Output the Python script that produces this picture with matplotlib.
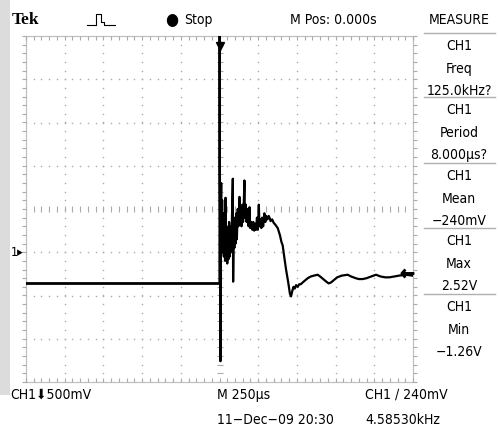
import numpy as np
import matplotlib
matplotlib.use("Agg")
import matplotlib.pyplot as plt
from matplotlib.patches import Rectangle

plt.rcParams['font.family'] = ['DejaVu Sans']
plt.rcParams['font.stretch'] = 'condensed'

# scope settings
volts_per_div = 0.5
us_per_div = 250
ground_div = -1
trig_level = -0.24

# captured CH1 trace: time in us, voltage in V
pre_t = [-1250, -1000, -750, -500, -250, -2]
pre_v = [-0.35, -0.35, -0.35, -0.35, -0.35, -0.35]

post_t = [0, 1, 2, 4, 6, 8, 11, 14, 17, 20, 24, 28, 32, 36, 39, 42, 46, 50,
          54, 58, 62, 66, 70, 74, 80, 86, 88, 92, 96, 100, 104, 108, 112, 118,
          122, 129, 133, 138, 142, 148, 152, 156, 161, 164, 170, 175, 182, 188,
          194, 198, 205, 212, 218, 224, 230, 236, 242, 248, 254, 258, 264, 270,
          276, 282, 290, 296, 302, 310, 318, 323, 330, 340, 350, 360, 376, 390,
          400, 408, 418, 430, 445, 455, 462, 470, 478, 486, 495, 505, 515, 525,
          537, 550, 570, 590, 610, 634, 650, 670, 690, 705, 720, 740, 760, 790,
          828, 850, 880, 900, 925, 950, 980, 1011, 1040, 1070, 1097, 1130, 1160,
          1204, 1245]
post_v = [-0.35, 2.52, 0.99, 0.30, -1.26, 0.50, 0.80, 0.10, 0.60, 0.00, 0.45,
          -0.05, 0.35, -0.10, 0.63, 0.00, 0.30, -0.13, 0.25, -0.08, 0.35, -0.05,
          0.30, 0.00, 0.35, 0.85, -0.34, 0.25, 0.05, 0.40, 0.10, 0.45, 0.15,
          0.50, 0.30, 0.64, 0.35, 0.50, 0.30, 0.55, 0.35, 0.50, 0.83, 0.40,
          0.55, 0.35, 0.50, 0.30, 0.52, 0.28, 0.35, 0.26, 0.35, 0.25, 0.33,
          0.26, 0.40, 0.26, 0.55, 0.30, 0.38, 0.28, 0.40, 0.30, 0.45, 0.35,
          0.42, 0.38, 0.42, 0.40, 0.36, 0.38, 0.34, 0.32, 0.28, 0.20, 0.12,
          0.08, -0.05, -0.20, -0.36, -0.48, -0.51, -0.45, -0.40, -0.42, -0.38,
          -0.40, -0.37, -0.37, -0.35, -0.33, -0.30, -0.28, -0.27, -0.26, -0.28,
          -0.31, -0.34, -0.36, -0.35, -0.32, -0.29, -0.27, -0.26, -0.28, -0.30,
          -0.31, -0.31, -0.30, -0.28, -0.26, -0.28, -0.29, -0.29, -0.28, -0.27,
          -0.26, -0.27]

measure_names = ['Freq', 'Period', 'Mean', 'Max', 'Min']
measure_vals = ['125.0kHz?', '8.000\u00b5s?', '\u2212240mV', '2.52V', '\u22121.26V']


def to_div(v):
    return np.asarray(v) / volts_per_div + ground_div


fig = plt.figure(figsize=(5.0, 4.34), dpi=100)
fig.patch.set_facecolor('white')
fig.patches.append(Rectangle((0, 0.09), 0.02, 0.91, transform=fig.transFigure,
                             facecolor='#dcdcdc', edgecolor='none', zorder=0))

ax = fig.add_axes([26 / 500, 1 - 382 / 434, 387 / 500, 346 / 434])
ax.set_xlim(-5, 5)
ax.set_ylim(-4, 4)
ax.axis('off')

grid_col = '#aaaaaa'
# dotted graticule
for gx in range(-4, 5):
    if gx == 0:
        continue
    ys = np.arange(-4, 4.01, 0.2)
    ax.plot(np.full_like(ys, gx), ys, ls='none', marker='s', ms=1.0, mew=0, color=grid_col)
for gy in range(-3, 4):
    if gy == 0:
        continue
    xs = np.arange(-5, 5.01, 0.2)
    ax.plot(xs, np.full_like(xs, gy), ls='none', marker='s', ms=1.0, mew=0, color=grid_col)

# center cross with minor ticks
xs = np.arange(-5, 5.01, 0.2)
ax.plot(xs, np.zeros_like(xs), ls='none', marker='|', ms=4, mew=0.8, color=grid_col)
ys = np.arange(-4, 4.01, 0.2)
ax.plot(np.zeros_like(ys), ys, ls='none', marker='_', ms=4, mew=0.8, color=grid_col)

# border with inward ticks
ax.plot([-5, 5, 5, -5, -5], [-4, -4, 4, 4, -4], color='#c0c0c0', lw=0.9, clip_on=False)
ax.plot(xs, np.full_like(xs, 4), ls='none', marker=3, ms=3, mew=0.8, color=grid_col, clip_on=False)
ax.plot(xs, np.full_like(xs, -4), ls='none', marker=2, ms=3, mew=0.8, color=grid_col, clip_on=False)
ax.plot(np.full_like(ys, -5), ys, ls='none', marker=0, ms=3, mew=0.8, color=grid_col, clip_on=False)
ax.plot(np.full_like(ys, 5), ys, ls='none', marker=1, ms=3, mew=0.8, color=grid_col, clip_on=False)

# trace
ax.plot(np.array(pre_t) / us_per_div, to_div(pre_v), color='black', lw=2.0)
ax.plot(np.array(post_t) / us_per_div, to_div(post_v), color='black', lw=1.6)

# markers: trigger position, trigger level, channel ground
ax.plot(0, 3.78, marker='v', ms=6, color='black', clip_on=False)
ax.plot(4.85, to_div(trig_level), marker=r'$\leftarrow$', ms=9, color='black', clip_on=False)
fig.text(11 / 500, 1 - 253 / 434, '1\u25b8', fontsize=9, ha='left', va='center')

# header
fs = 10
fig.text(12 / 500, 1 - 20 / 434, 'Tek', fontsize=12.5, fontweight='bold',
         family='Liberation Serif', va='center')
fig.text(165 / 500, 1 - 20 / 434, '\u25cf', fontsize=12, va='center')
fig.text(184 / 500, 1 - 20 / 434, 'Stop', fontsize=fs, va='center')
fig.text(290 / 500, 1 - 20 / 434, 'M Pos: 0.000s', fontsize=fs, va='center')
fig.text(459 / 500, 1 - 20 / 434, 'MEASURE', fontsize=fs, va='center', ha='center')

# small pulse icon
icon = fig.add_axes([86 / 500, 1 - 27 / 434, 30 / 500, 15 / 434])
icon.plot([0, 3, 3, 5, 5, 6, 6, 10], [0, 0, 1, 1, 0.3, 0.3, 0, 0], color='black', lw=0.8)
icon.set_xlim(-0.5, 10.5)
icon.set_ylim(-0.2, 1.2)
icon.axis('off')

# measurement panel
seps = [33, 97, 163, 228, 294]
for i, (name, val) in enumerate(zip(measure_names, measure_vals)):
    top = seps[i]
    fig.text(459 / 500, 1 - (top + 13) / 434, 'CH1', fontsize=fs, ha='center', va='center')
    fig.text(459 / 500, 1 - (top + 36) / 434, name, fontsize=fs, ha='center', va='center')
    fig.text(459 / 500, 1 - (top + 58) / 434, val, fontsize=fs, ha='center', va='center')
for s in seps:
    fig.add_artist(plt.Line2D([424 / 500, 495 / 500], [1 - s / 434, 1 - s / 434],
                              color='#b0b0b0', lw=1.0))

# footer
fig.text(10 / 500, 1 - 395 / 434, 'CH1\u2b07500mV', fontsize=fs, va='center')
fig.text(217 / 500, 1 - 395 / 434, 'M 250\u00b5s', fontsize=fs, va='center')
fig.text(365 / 500, 1 - 395 / 434, 'CH1 \u2215 240mV', fontsize=fs, va='center')
fig.text(217 / 500, 1 - 420 / 434, '11\u2212Dec\u221209 20:30', fontsize=fs, va='center')
fig.text(365 / 500, 1 - 420 / 434, '4.58530kHz', fontsize=fs, va='center')

fig.savefig('out.png', dpi=100)
